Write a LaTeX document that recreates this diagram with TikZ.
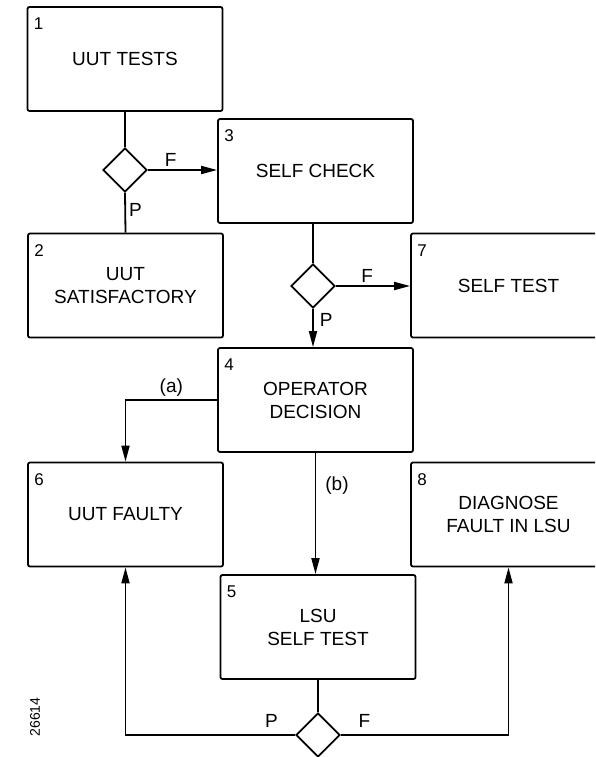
\documentclass[tikz,border=0pt]{standalone}
\usepackage{fontspec}
\setmainfont{Liberation Sans}
\usetikzlibrary{shapes.geometric,arrows.meta}

\tikzset{
  blk/.style={draw,line width=1.8pt,rounded corners=2pt,minimum width=195pt,minimum height=104pt,align=center,font=\fontsize{19}{23}\selectfont},
  dia/.style={draw,diamond,line width=1.8pt,inner sep=0pt,minimum size=44pt},
  num/.style={font=\fontsize{17}{17}\selectfont,inner sep=0pt},
  lbl/.style={font=\fontsize{19}{19}\selectfont,inner sep=3pt},
  link/.style={line width=1.8pt},
  flow/.style={line width=1.8pt,-{Triangle[length=16pt,width=8pt]}},
}

\begin{document}
\begin{tikzpicture}[x=1pt,y=-1pt]
\useasboundingbox (0,0) rectangle (595,757);
\clip (0,0) rectangle (595,757);
% boxes
\node[blk] (b1) at (125,59) {UUT TESTS};
\node[blk] (b2) at (125.5,285.5) {UUT\\SATISFACTORY};
\node[blk] (b3) at (315.5,171) {SELF CHECK};
\node[blk] (b7) at (508.5,285.5) {SELF TEST};
\node[blk] (b4) at (315.5,400) {OPERATOR\\DECISION};
\node[blk] (b6) at (125.5,514.5) {UUT FAULTY};
\node[blk] (b8) at (508.5,514.5) {DIAGNOSE\\FAULT IN LSU};
\node[blk] (b5) at (318,627) {LSU\\SELF TEST};
% decisions
\node[dia] (d1) at (125,170) {};
\node[dia] (d2) at (313,286) {};
\node[dia] (d3) at (318,735) {};
% box numbers
\foreach \b/\n in {b1/1,b2/2,b3/3,b4/4,b5/5,b6/6,b7/7,b8/8}{\node[num] (n\n) at ([xshift=12pt,yshift=-18pt]\b.north west) {\n};}
% connectors
\draw[link] (b1.south) -- (d1.north);
\draw[link] (d1.south) -- node[lbl,right,pos=0.42] (p1) {P} (b2.north);
\draw[flow] (d1.east) -- node[lbl,above,pos=0.33] (f1) {F} (d1.east -| b3.west);
\draw[link] (d2.north |- b3.south) -- (d2.north);
\draw[flow] (d2.east) -- node[lbl,above,pos=0.42] (f2) {F} (d2.east -| b7.west);
\draw[flow] (d2.south) -- node[lbl,right,pos=0.3,xshift=3pt] (p2) {P} (d2.south |- b4.north);
\draw[flow] (b4.west) -| node[lbl,above,pos=0.25] (la) {(a)} (b6.north);
\draw[flow] (b4.south) -- node[lbl,right,pos=0.27,xshift=6pt] (lb) {(b)} (b4.south |- b5.north);
\draw[link] (b5.south) -- (d3.north);
\draw[flow] (d3.west) -| node[lbl,above,pos=0.07,yshift=4pt] (p3) {P} (b6.south);
\draw[flow] (d3.east) -| node[lbl,above,pos=0.07,yshift=4pt] (f3) {F} (b8.south);
% figure number
\node[rotate=90,font=\fontsize{14}{14}\selectfont] (fig) at (35,717) {26614};
\end{tikzpicture}
\end{document}
